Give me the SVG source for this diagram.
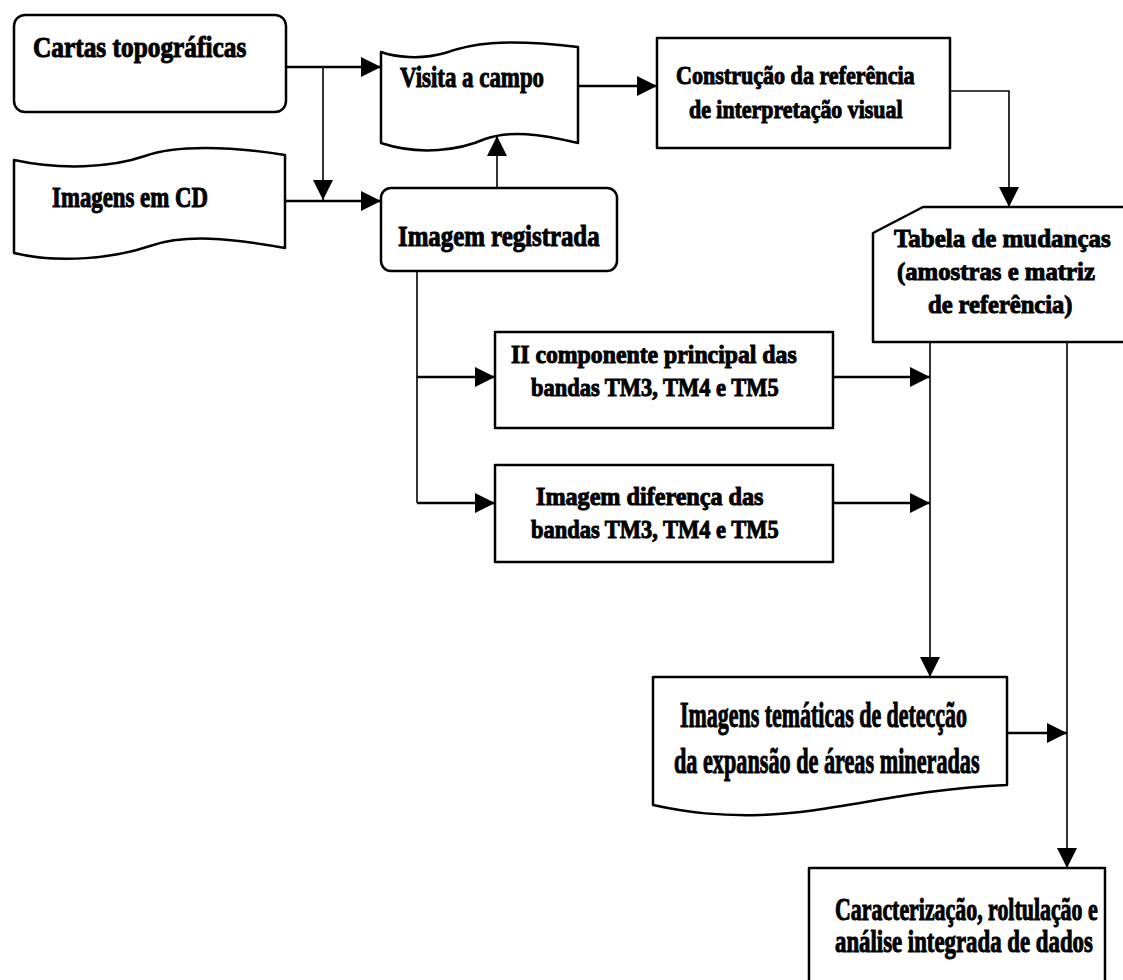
<svg xmlns="http://www.w3.org/2000/svg" width="1123" height="980" viewBox="0 0 1123 980">
  <defs>
    <marker id="arrow" markerUnits="userSpaceOnUse" markerWidth="20" markerHeight="20" refX="20" refY="10" orient="auto">
      <path d="M0,0 L20,10 L0,20 Z" fill="#000"/>
    </marker>
    <style>
      .box { fill: #fff; stroke: #000; stroke-width: 2.5; stroke-linejoin: round; }
      .link { fill: none; stroke: #000; stroke-width: 2.5; }
      .thin { fill: none; stroke: #000; stroke-width: 1.6; }
      .lbl { font-family: "Liberation Serif", "Times New Roman", serif; font-weight: bold; fill: #000; stroke: #000; stroke-width: 1; }
      .big { font-size: 30px; }
      .mid { font-size: 26px; }
      .tall { font-size: 36px; }
      .cap { font-size: 31px; }
    </style>
  </defs>

  <rect width="1123" height="980" fill="#fff"/>

  <!-- connectors -->
  <g id="connectors">
    <!-- Cartas topográficas -> Visita a campo, with branch down -->
    <path class="link" d="M286,67 L381,67" marker-end="url(#arrow)"/>
    <path class="thin" d="M323,67 L323,200" marker-end="url(#arrow)"/>
    <!-- Imagens em CD -> Imagem registrada -->
    <path class="link" d="M285,201 L381,201" marker-end="url(#arrow)"/>
    <!-- Imagem registrada -> Visita a campo -->
    <path class="thin" d="M497,188 L497,136" marker-end="url(#arrow)"/>
    <!-- Visita a campo -> Construção -->
    <path class="link" d="M578,86 L657,86" marker-end="url(#arrow)"/>
    <!-- Construção -> Tabela -->
    <path class="thin" d="M950,91 L1009,91 L1009,207" marker-end="url(#arrow)"/>
    <!-- Imagem registrada -> two processing boxes -->
    <path class="thin" d="M417,271 L417,503"/>
    <path class="link" d="M417,377 L495,377" marker-end="url(#arrow)"/>
    <path class="link" d="M417,503 L495,503" marker-end="url(#arrow)"/>
    <!-- processing boxes -> vertical line -->
    <path class="link" d="M833,377 L930,377" marker-end="url(#arrow)"/>
    <path class="link" d="M833,503 L930,503" marker-end="url(#arrow)"/>
    <!-- Tabela -> Imagens temáticas -->
    <path class="thin" d="M930,342 L930,677" marker-end="url(#arrow)"/>
    <!-- Tabela -> Caracterização -->
    <path class="thin" d="M1067,342 L1067,868" marker-end="url(#arrow)"/>
    <!-- Imagens temáticas -> vertical line -->
    <path class="link" d="M1007,733 L1067,733" marker-end="url(#arrow)"/>
  </g>

  <g id="cartas">
    <rect class="box" x="14" y="15" width="272" height="97" rx="11"/>
    <text class="lbl big" transform="translate(33,57) scale(0.845,1)">Cartas topográficas</text>
  </g>

  <g id="imagens-cd">
    <path class="box" d="M14,160 C60,170 110,168 145,156 C175,145 230,146 285,155 L285,248 C230,238 185,234 150,246 C115,258 60,264 14,253 Z"/>
    <text class="lbl big" transform="translate(52,207) scale(0.761,1)">Imagens em CD</text>
  </g>

  <g id="visita">
    <path class="box" d="M381,52 C395,57 420,60 445,53 C470,44 500,38 578,47 L578,143 C540,134 510,130 485,139 C460,150 420,156 381,143 Z"/>
    <text class="lbl big" transform="translate(400,87) scale(0.763,1)">Visita a campo</text>
  </g>

  <g id="imagem-registrada">
    <rect class="box" x="381" y="188" width="236" height="83" rx="10"/>
    <text class="lbl big" transform="translate(398,246) scale(0.828,1)">Imagem registrada</text>
  </g>

  <g id="construcao">
    <rect class="box" x="657" y="38" width="293" height="110"/>
    <text class="lbl mid" transform="translate(676,84) scale(0.849,1)">Construção da referência</text>
    <text class="lbl mid" transform="translate(689,118) scale(0.842,1)">de interpretação visual</text>
  </g>

  <g id="tabela">
    <path class="box" d="M923,207 L1130,207 L1130,342 L873,342 L873,233 Z"/>
    <text class="lbl mid" transform="translate(894,247) scale(0.96,1)">Tabela de mudanças</text>
    <text class="lbl mid" transform="translate(897,280) scale(0.952,1)">(amostras e matriz</text>
    <text class="lbl mid" transform="translate(928,313) scale(0.943,1)">de referência)</text>
  </g>

  <g id="componente">
    <rect class="box" x="495" y="332" width="338" height="96"/>
    <text class="lbl mid" transform="translate(511,363) scale(0.914,1)">II componente principal das</text>
    <text class="lbl mid" transform="translate(531,396) scale(0.864,1)">bandas TM3, TM4 e TM5</text>
  </g>

  <g id="diferenca">
    <rect class="box" x="495" y="465" width="338" height="97"/>
    <text class="lbl mid" transform="translate(536,505) scale(0.929,1)">Imagem diferença das</text>
    <text class="lbl mid" transform="translate(531,538) scale(0.864,1)">bandas TM3, TM4 e TM5</text>
  </g>

  <g id="tematicas">
    <path class="box" d="M653,677 L1007,677 L1007,785 C900,790 840,812 760,815 C720,816 690,813 653,805 Z"/>
    <text class="lbl tall" transform="translate(680,727) scale(0.61,1)">Imagens temáticas de detecção</text>
    <text class="lbl tall" transform="translate(674,773) scale(0.617,1)">da expansão de áreas mineradas</text>
  </g>

  <g id="caracterizacao">
    <rect class="box" x="809" y="868" width="296" height="130"/>
    <text class="lbl cap" transform="translate(835,920) scale(0.706,1)">Caracterização, roltulação e</text>
    <text class="lbl cap" transform="translate(835,952) scale(0.736,1)">análise integrada de dados</text>
  </g>
</svg>
